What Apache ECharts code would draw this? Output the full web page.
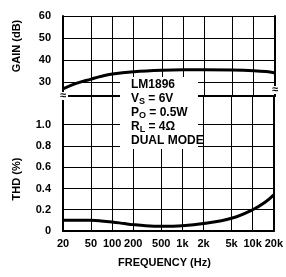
<!DOCTYPE html>
<html>
<head>
<meta charset="utf-8">
<script src="https://cdn.jsdelivr.net/npm/echarts@6/dist/echarts.min.js"></script>
<style>
  html, body { margin: 0; padding: 0; background: #fff; }
  #chart { width: 286px; height: 277px; }
</style>
</head>
<body>
<div id="chart"></div>
<script>
// axis ticks
var freqTicks = [20, 50, 100, 200, 500, 1000, 2000, 5000, 10000, 20000];
var freqLabels = ['20', '50', '100', '200', '500', '1k', '2k', '5k', '10k', '20k'];
var gainTicks = [30, 40, 50, 60];
var thdTicks = [0, 0.2, 0.4, 0.6, 0.8, 1.0];
var thdLabels = ['0', '0.2', '0.4', '0.6', '0.8', '1.0'];

// gain (dB) vs frequency
var gainFreq = [20, 30, 50, 70, 100, 200, 500, 1000, 2000, 5000, 10000, 15000, 20000];
var gainDb = [26.8, 29.2, 31.3, 32.6, 33.6, 34.6, 35.3, 35.5, 35.5, 35.4, 35.1, 34.7, 34.1];

// THD (%) vs frequency
var thdFreq = [20, 50, 70, 100, 150, 200, 300, 500, 1000, 2000, 5000, 10000, 15000, 20000];
var thdPct = [0.10, 0.10, 0.095, 0.085, 0.07, 0.06, 0.05, 0.045, 0.05, 0.07, 0.12, 0.2, 0.27, 0.34];

var FONT = "'Liberation Sans Narrow', 'Liberation Sans', Arial, sans-serif";

function lg(f) { return Math.log10(f); }
var xMin = lg(20), xMax = lg(20000);
var freqPos = freqTicks.map(lg);

function freqLabel(v) {
  var best = 0;
  freqPos.forEach(function (p, i) {
    if (Math.abs(p - v) < Math.abs(freqPos[best] - v)) best = i;
  });
  return freqLabels[best];
}
function thdLabel(v) {
  var best = 0;
  thdTicks.forEach(function (p, i) {
    if (Math.abs(p - v) < Math.abs(thdTicks[best] - v)) best = i;
  });
  return thdLabels[best];
}

var gainData = gainFreq.map(function (f, i) { return [lg(f), gainDb[i]]; });
var thdData = thdFreq.map(function (f, i) { return [lg(f), thdPct[i]]; });

var black = '#000';
var labelStyle = { color: black, fontFamily: FONT, fontWeight: 'bold', fontSize: 11 };

var chart = echarts.init(document.getElementById('chart'));

var option = {
  animation: false,
  backgroundColor: '#fff',
  grid: [
    { left: 63, right: 11, top: 16, height: 80 },
    { left: 63, right: 11, top: 96, height: 135 }
  ],
  xAxis: [
    {
      gridIndex: 0, type: 'value', min: xMin, max: xMax, position: 'top',
      axisLine: { show: true, lineStyle: { color: black, width: 2 } },
      axisTick: { show: false, customValues: freqPos },
      axisLabel: { show: false },
      splitLine: { show: true, lineStyle: { color: black, width: 1 } }
    },
    {
      gridIndex: 1, type: 'value', min: xMin, max: xMax, position: 'bottom',
      axisLine: { show: true, lineStyle: { color: black, width: 2 } },
      axisTick: { show: false, customValues: freqPos },
      axisLabel: Object.assign({ customValues: freqPos, margin: 7, formatter: freqLabel }, labelStyle),
      splitLine: { show: true, lineStyle: { color: black, width: 1 } },
      name: 'FREQUENCY (Hz)', nameLocation: 'middle', nameGap: 26,
      nameTextStyle: { color: black, fontFamily: "'Liberation Sans', Arial, sans-serif", fontWeight: 'bold', fontSize: 11, padding: [0, 8, 0, 0] }
    }
  ],
  yAxis: [
    {
      gridIndex: 0, type: 'value', min: 23.6, max: 60,
      axisLine: { show: true, lineStyle: { color: black, width: 2 } },
      axisTick: { show: false, customValues: gainTicks },
      axisLabel: Object.assign({ customValues: gainTicks, margin: 12 }, labelStyle),
      splitLine: { show: true, lineStyle: { color: black, width: 1 } }
    },
    {
      gridIndex: 0, type: 'value', min: 0, max: 1, position: 'right',
      axisLine: { show: true, lineStyle: { color: black, width: 2 } },
      axisTick: { show: false }, axisLabel: { show: false }, splitLine: { show: false }
    },
    {
      gridIndex: 1, type: 'value', min: 0, max: 1.27,
      axisLine: { show: true, lineStyle: { color: black, width: 2 } },
      axisTick: { show: false, customValues: thdTicks },
      axisLabel: Object.assign({ customValues: thdTicks, margin: 12, formatter: thdLabel }, labelStyle),
      splitLine: { show: true, lineStyle: { color: black, width: 1 } }
    },
    {
      gridIndex: 1, type: 'value', min: 0, max: 1, position: 'right',
      axisLine: { show: true, lineStyle: { color: black, width: 2 } },
      axisTick: { show: false }, axisLabel: { show: false }, splitLine: { show: false }
    }
  ],
  series: [
    {
      name: 'Gain', type: 'line', xAxisIndex: 0, yAxisIndex: 0,
      data: gainData, smooth: 0.4, showSymbol: false, z: 5,
      lineStyle: { color: black, width: 3 }
    },
    {
      name: 'THD', type: 'line', xAxisIndex: 1, yAxisIndex: 2,
      data: thdData, smooth: 0.4, showSymbol: false, z: 5,
      lineStyle: { color: black, width: 3 }
    }
  ],
  graphic: [
    // axis titles
    {
      type: 'text', x: 17, y: 46, rotation: Math.PI / 2,
      style: { text: 'GAIN (dB)', fill: black, font: "bold 11px 'Liberation Sans', Arial, sans-serif", align: 'center', verticalAlign: 'middle' }
    },
    {
      type: 'text', x: 17, y: 179, rotation: Math.PI / 2,
      style: { text: 'THD (%)', fill: black, font: "bold 11px 'Liberation Sans', Arial, sans-serif", align: 'center', verticalAlign: 'middle' }
    },
    // axis break marks
    { type: 'rect', shape: { x: 58, y: 92, width: 10, height: 8 }, style: { fill: '#fff' }, z: 20 },
    { type: 'text', x: 63, y: 96, z: 21, style: { text: '≈', fill: black, font: 'bold 11px sans-serif', align: 'center', verticalAlign: 'middle' } },
    { type: 'rect', shape: { x: 270, y: 86, width: 10, height: 8 }, style: { fill: '#fff' }, z: 20 },
    { type: 'text', x: 275, y: 90, z: 21, style: { text: '≈', fill: black, font: 'bold 11px sans-serif', align: 'center', verticalAlign: 'middle' } },
    // condition box
    { type: 'rect', shape: { x: 120, y: 77, width: 78, height: 72 }, style: { fill: '#fff' }, z: 20 },
    {
      type: 'text', x: 131, y: 78, z: 21,
      style: {
        text: '{b|LM1896}\n{b|V}{s|S}{b| = 6V}\n{b|P}{s|O}{b| = 0.5W}\n{b|R}{s|L}{b| = 4Ω}\n{b|DUAL MODE}',
        rich: {
          b: { fill: black, fontFamily: FONT, fontWeight: 'bold', fontSize: 12, lineHeight: 14 },
          s: { fill: black, fontFamily: FONT, fontWeight: 'bold', fontSize: 9, lineHeight: 14, padding: [6, 0, 0, 0] }
        }
      }
    }
  ]
};

chart.setOption(option);
</script>
</body>
</html>
